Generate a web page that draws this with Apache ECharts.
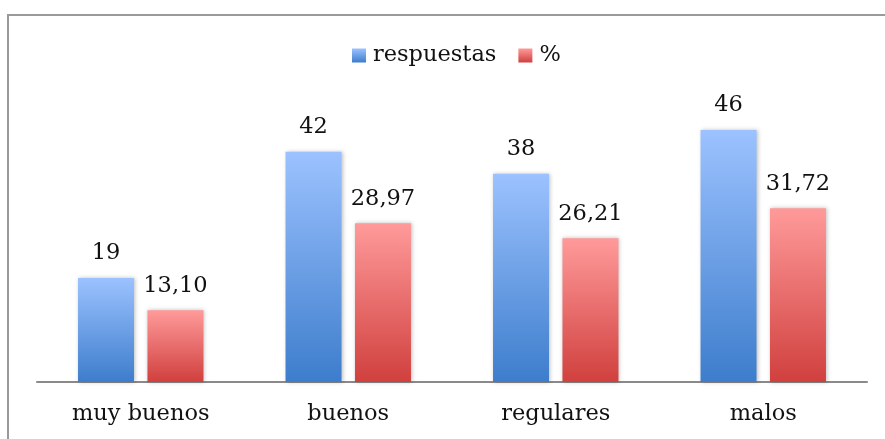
<!DOCTYPE html>
<html>
<head>
<meta charset="utf-8">
<style>
  html, body { margin: 0; padding: 0; background: #fff; }
  #chart { width: 885px; height: 439px; }
</style>
<script src="https://cdn.jsdelivr.net/npm/echarts@6/dist/echarts.min.js"></script>
</head>
<body>
<div id="chart"></div>
<script>
// Survey ratings: count of answers and share in percent
const categories = ['muy buenos', 'buenos', 'regulares', 'malos'];
const respuestas = [19, 42, 38, 46];
const porcentaje = [13.10, 28.97, 26.21, 31.72];

const FONT = 'DejaVu Serif';
const FONT_SIZE = 22.5;

function grad(top, bottom) {
  return new echarts.graphic.LinearGradient(0, 0, 0, 1, [
    { offset: 0, color: top },
    { offset: 1, color: bottom }
  ]);
}

const chart = echarts.init(document.getElementById('chart'), null, { renderer: 'canvas' });

chart.setOption({
  animation: false,
  backgroundColor: '#ffffff',
  graphic: [{
    type: 'rect',
    shape: { x: 8, y: 15, width: 900, height: 450 },
    style: { fill: 'none', stroke: '#9a9a9a', lineWidth: 2 },
    silent: true,
    z: -1
  }],
  legend: {
    top: 39,
    left: 347,
    itemWidth: 14,
    itemHeight: 14,
    itemGap: 22,
    icon: 'rect',
    textStyle: { fontFamily: FONT, fontSize: FONT_SIZE, color: '#111', padding: [0, 0, 0, 2] },
    data: ['respuestas', '%']
  },
  grid: { left: 37, right: 18, top: 108, bottom: 57 },
  xAxis: {
    type: 'category',
    data: categories,
    axisLine: { lineStyle: { color: '#8a8a8a', width: 2 } },
    axisTick: { show: false },
    axisLabel: { fontFamily: FONT, fontSize: FONT_SIZE, color: '#111', margin: 21 }
  },
  yAxis: {
    type: 'value',
    min: 0,
    max: 50,
    show: false,
    splitLine: { show: false }
  },
  series: [
    {
      name: 'respuestas',
      type: 'bar',
      data: respuestas,
      barWidth: 56,
      barGap: '24%',
      itemStyle: {
        color: grad('#9cc2ff', '#3d7dcc'),
        shadowColor: 'rgba(0,0,0,0.25)',
        shadowBlur: 4,
        shadowOffsetX: 1
      },
      label: {
        show: true,
        position: 'top',
        distance: 13,
        fontFamily: FONT,
        fontSize: FONT_SIZE,
        color: '#111',
        formatter: p => String(p.value)
      }
    },
    {
      name: '%',
      type: 'bar',
      data: porcentaje,
      barWidth: 56,
      itemStyle: {
        color: grad('#ff9a9a', '#d0403e'),
        shadowColor: 'rgba(0,0,0,0.25)',
        shadowBlur: 4,
        shadowOffsetX: 1
      },
      label: {
        show: true,
        position: 'top',
        distance: 13,
        fontFamily: FONT,
        fontSize: FONT_SIZE,
        color: '#111',
        formatter: p => p.value.toFixed(2).replace('.', ',')
      }
    }
  ]
});
</script>
</body>
</html>
